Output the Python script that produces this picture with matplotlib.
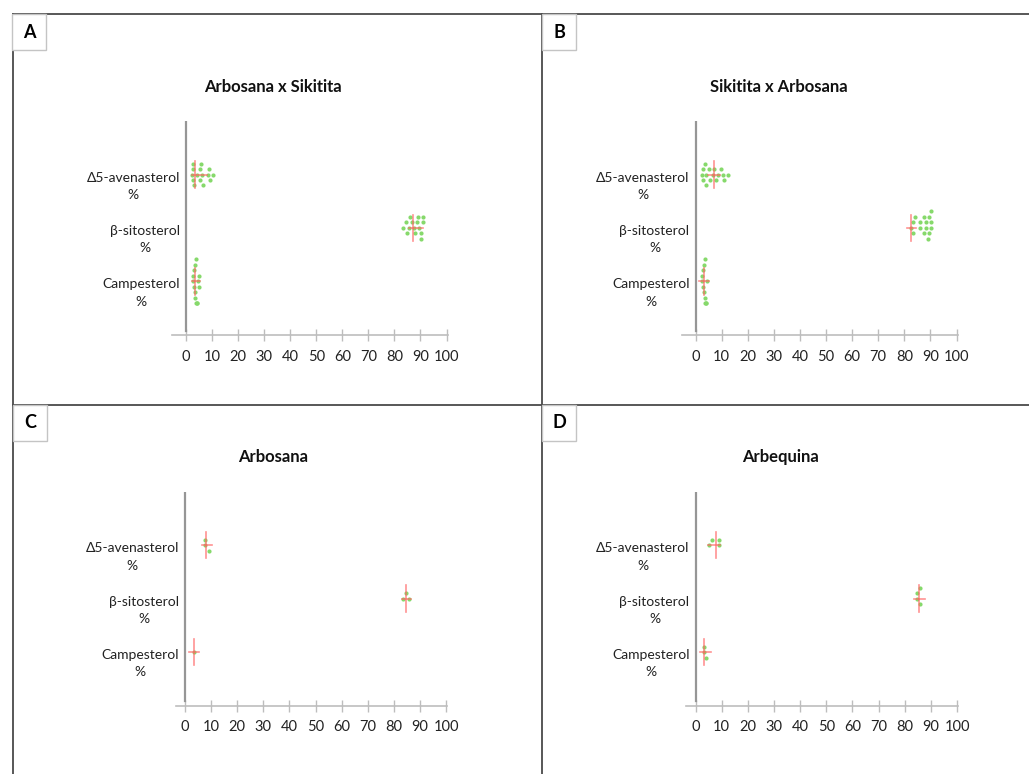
import matplotlib
matplotlib.use("Agg")
from matplotlib import pyplot as plt
from matplotlib.lines import Line2D
from matplotlib.patches import Rectangle

plt.rcParams['font.family'] = ['Lato', 'DejaVu Sans']

# ---- data ----
categories = ["Δ5-avenasterol\n%", "β-sitosterol\n%", "Campesterol\n%"]
titles = ["Arbosana x Sikitita", "Sikitita x Arbosana", "Arbosana", "Arbequina"]
letters = ["A", "B", "C", "D"]
xticks = list(range(0, 101, 10))

# A: Arbosana x Sikitita
a_avena = [2.3, 2.6, 2.6, 2.8, 3.2, 4.2, 5.2, 5.5, 5.8, 6.2, 6.4, 8.3, 9.0, 9.4, 10.4]
a_sito = [83.3, 84.3, 85.0, 85.6, 86.0, 86.6, 87.5, 87.8, 88.8, 89.1, 89.5, 90.4, 90.4, 90.8, 91.0]
a_camp = [2.6, 2.8, 3.0, 3.2, 3.3, 3.5, 3.6, 3.8, 4.0, 4.2, 4.4, 4.6, 4.9, 5.0]
a_center = [3.6, 87.3, 3.6]
a_low = [2.2, 85.6, 2.3]
a_high = [7.9, 90.8, 5.5]

# B: Sikitita x Arbosana
b_avena = [2.3, 2.7, 3.0, 3.6, 4.2, 4.2, 5.1, 5.5, 6.8, 7.2, 7.8, 8.7, 9.6, 10.6, 11.0, 12.6]
b_sito = [82.7, 83.3, 83.5, 84.0, 86.0, 86.0, 87.5, 87.5, 88.2, 88.2, 89.1, 89.5, 89.5, 90.1, 90.4, 90.4]
b_camp = [2.4, 2.6, 2.8, 3.0, 3.1, 3.3, 3.5, 3.6, 3.8, 4.0, 4.2, 4.4]
b_center = [7.0, 82.7, 3.1]
b_low = [4.9, 80.9, 1.4]
b_high = [9.4, 84.3, 5.3]

# C: Arbosana
c_avena = [7.7, 7.7, 9.1]
c_sito = [83.5, 84.7, 86.0]
c_camp = [3.3]
c_center = [8.2, 84.7, 3.3]
c_low = [6.4, 83.1, 1.4]
c_high = [10.4, 86.5, 5.5]

# D: Arbequina
d_avena = [5.3, 6.4, 9.0, 9.0]
d_sito = [84.6, 84.6, 86.0, 86.0]
d_camp = [3.3, 3.3, 4.0]
d_center = [7.7, 85.6, 3.3]
d_low = [4.9, 83.5, 1.7]
d_high = [9.4, 87.6, 5.8]

panel_dots = [[a_avena, a_sito, a_camp], [b_avena, b_sito, b_camp],
              [c_avena, c_sito, c_camp], [d_avena, d_sito, d_camp]]
panel_center = [a_center, b_center, c_center, d_center]
panel_low = [a_low, b_low, c_low, d_low]
panel_high = [a_high, b_high, c_high, d_high]

# ---- layout (pixels) ----
W, H = 1029, 774
GREEN = '#86d96b'
RED = '#ff6464'

# x of value 0, x of value 100, left limit, y of top category, row spacing,
# title centre, letter box corner
layout = [
    (186.0, 446.5, -5.3, 174.5, 53.5, (273, 87), (12, 14)),
    (695.5, 956.5, -5.3, 174.5, 53.5, (779, 87), (542, 14)),
    (185.0, 446.0, -3.5, 545.0, 53.5, (273, 457), (13, 405)),
    (695.5, 957.0, -3.6, 545.0, 53.5, (780, 457), (542, 405)),
]

fig = plt.figure(figsize=(W / 100, H / 100), dpi=100)


def swarm(values, scale, step_px=5.5, dmin=4.8):
    """simple deterministic beeswarm: returns row offsets in pixels"""
    placed = []
    offs = {}
    for i in sorted(range(len(values)), key=lambda j: values[j]):
        x = values[i] * scale
        k = 0
        for k in [0, 1, -1, 2, -2, 3, -3, 4, -4]:
            y = k * step_px
            if all((x - px) ** 2 + (y - py) ** 2 >= dmin ** 2 for px, py in placed):
                break
        placed.append((x, k * step_px))
        offs[i] = k * step_px
    return [offs[i] for i in range(len(values))]


for p, (x0, x100, xmin, cat_top, row, tpos, lpos) in enumerate(layout):
    s = (x100 - x0) / 100.0
    left = x0 + xmin * s
    right = x0 + 100.5 * s
    top = cat_top - row
    bottom = cat_top + 3 * row
    ax = fig.add_axes([left / W, 1 - bottom / H, (right - left) / W, (bottom - top) / H])
    ax.set_xlim(xmin, 100.5)
    ax.set_ylim(0, 4)

    for spine in ['top', 'right', 'left']:
        ax.spines[spine].set_visible(False)
    ax.spines['bottom'].set_color('#bdbdbd')
    ax.spines['bottom'].set_linewidth(1.2)
    ax.axvline(0, ymin=0.02, ymax=1.0, color='#969696', lw=1.6)

    ax.set_xticks(xticks)
    ax.set_xticklabels([str(t) for t in xticks])
    ax.tick_params(axis='x', direction='inout', length=9, width=1, color='#bdbdbd',
                   labelsize=10.5, labelcolor='#222222', pad=6)
    ax.set_yticks([])

    for c, cat in enumerate(categories):
        ypos = 3 - c
        vals = panel_dots[p][c]
        offs = swarm(vals, s)
        ys = [ypos + o / row for o in offs]
        ax.plot(vals, ys, 'o', ms=3.0, color=GREEN, mec='none', zorder=3)
        # median line and spread bar
        ax.plot([panel_center[p][c]] * 2, [ypos - 0.25, ypos + 0.25], color=RED,
                lw=1.2, alpha=0.7, zorder=4)
        ax.plot([panel_low[p][c], panel_high[p][c]], [ypos, ypos], color=RED,
                lw=1.2, alpha=0.7, zorder=4)
        ax.annotate(cat, xy=(0, ypos), xycoords='data', xytext=(-6, 3),
                    textcoords='offset pixels', ha='right', va='top',
                    multialignment='center', fontsize=10, color='#222222',
                    linespacing=1.55, annotation_clip=False)

    fig.text(tpos[0] / W, 1 - tpos[1] / H, titles[p], ha='center', va='center',
             fontsize=12, fontweight='bold', color='#111111')

# panel frame lines
frame_lines = [((13, 14), (1029, 14)), ((13, 14), (13, 774)),
               ((542, 14), (542, 774)), ((13, 405), (1029, 405))]
for (xa, ya), (xb, yb) in frame_lines:
    fig.add_artist(Line2D([xa / W, xb / W], [1 - ya / H, 1 - yb / H],
                          transform=fig.transFigure, color='#4a4a4a', lw=1.3))

# panel letters
for p, (x0, x100, xmin, cat_top, row, tpos, lpos) in enumerate(layout):
    bx, by = lpos
    fig.add_artist(Rectangle((bx / W, 1 - (by + 36) / H), 34 / W, 36 / H,
                             transform=fig.transFigure, facecolor='white',
                             edgecolor='#c4c4c4', lw=1.0, zorder=5))
    fig.text((bx + 17) / W, 1 - (by + 18) / H, letters[p], ha='center', va='center',
             fontsize=13, fontweight='bold', color='black', zorder=6)

fig.savefig('out.png', dpi=100)
